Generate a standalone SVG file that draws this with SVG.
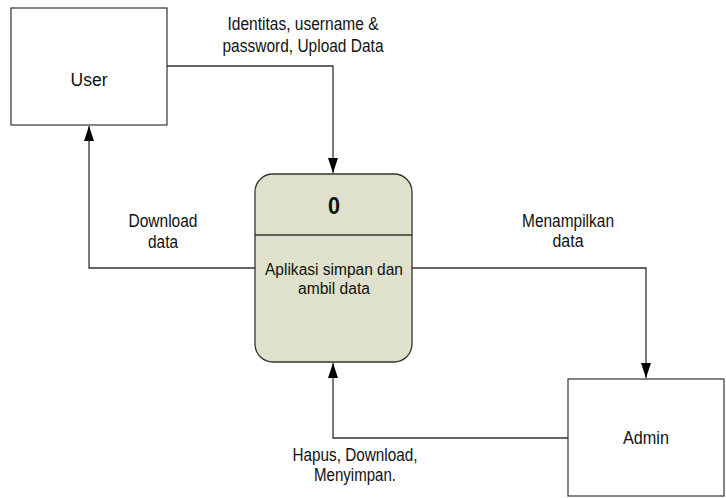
<svg xmlns="http://www.w3.org/2000/svg" width="726" height="498" viewBox="0 0 726 498">
<style>
text{font-family:"Liberation Sans",Arial,sans-serif;font-size:17.5px;fill:#111;text-anchor:middle}
.ent{fill:#fff;stroke:#333;stroke-width:1.2}
.proc{fill:#dfe1cc;stroke:#333;stroke-width:1.3}
.con{fill:none;stroke:#333;stroke-width:1.3}
.b{font-weight:bold;font-size:23px}
.p{font-size:16px}
</style>
<defs>
<marker id="ah" viewBox="0 0 10 10" refX="10" refY="5" markerWidth="15" markerHeight="10" markerUnits="userSpaceOnUse" orient="auto" preserveAspectRatio="none">
<path d="M0,0L10,5L0,10Z" fill="#000"/>
</marker>
</defs>
<g id="user"><rect class="ent" x="11" y="8" width="156" height="117"/><text x="89" y="86" textLength="37" lengthAdjust="spacingAndGlyphs">User</text></g>
<g id="admin"><rect class="ent" x="568" y="379" width="156" height="117"/><text x="646" y="444" textLength="46" lengthAdjust="spacingAndGlyphs">Admin</text></g>
<g id="process"><rect class="proc" x="255" y="174" width="157" height="188" rx="18"/><line class="proc" x1="255" y1="235" x2="412" y2="235"/><text class="b" x="334" y="214" textLength="12" lengthAdjust="spacingAndGlyphs">0</text><text class="p" x="334" y="275" textLength="138" lengthAdjust="spacingAndGlyphs">Aplikasi simpan dan</text><text class="p" x="334" y="294" textLength="72" lengthAdjust="spacingAndGlyphs">ambil data</text></g>
<g id="connectors">
<polyline class="con" points="167,66 333,66 333,173" marker-end="url(#ah)"/>
<polyline class="con" points="255,268 89,268 89,126" marker-end="url(#ah)"/>
<polyline class="con" points="412,268 646,268 646,378" marker-end="url(#ah)"/>
<polyline class="con" points="568,438 333,438 333,363" marker-end="url(#ah)"/>
<text x="303" y="30" textLength="151" lengthAdjust="spacingAndGlyphs">Identitas, username &amp;</text>
<text x="303" y="52" textLength="161" lengthAdjust="spacingAndGlyphs">password, Upload Data</text>
<text x="163" y="227" textLength="69" lengthAdjust="spacingAndGlyphs">Download</text>
<text x="163" y="248" textLength="30" lengthAdjust="spacingAndGlyphs">data</text>
<text x="568" y="227" textLength="92" lengthAdjust="spacingAndGlyphs">Menampilkan</text>
<text x="568" y="247" textLength="31" lengthAdjust="spacingAndGlyphs">data</text>
<text x="355" y="461" textLength="125" lengthAdjust="spacingAndGlyphs">Hapus, Download,</text>
<text x="355" y="481" textLength="82" lengthAdjust="spacingAndGlyphs">Menyimpan.</text>
</g>
</svg>
